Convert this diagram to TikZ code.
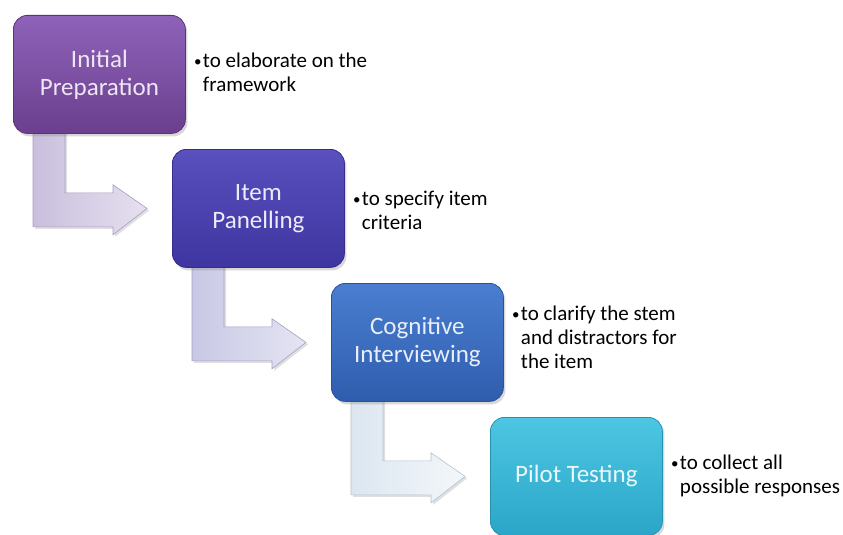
\documentclass[tikz,border=0pt]{standalone}
\usepackage{fontspec}
\setmainfont{Carlito}
\usetikzlibrary{calc,shadows}
\pgfdeclarelayer{bg}
\pgfsetlayers{bg,main}
\definecolor{bAt}{HTML}{8E62B8}\definecolor{bAb}{HTML}{6B3F8E}\definecolor{bAd}{HTML}{5A3478}\definecolor{bAx}{HTML}{EFE6F5}
\definecolor{bBt}{HTML}{5A50BE}\definecolor{bBb}{HTML}{3F35A0}\definecolor{bBd}{HTML}{362C8A}\definecolor{bBx}{HTML}{ECEBF8}
\definecolor{bCt}{HTML}{4A7ED0}\definecolor{bCb}{HTML}{2F5DAE}\definecolor{bCd}{HTML}{2A5296}\definecolor{bCx}{HTML}{E8EFF9}
\definecolor{bDt}{HTML}{4CC6E2}\definecolor{bDb}{HTML}{2CA6C8}\definecolor{bDd}{HTML}{2592B0}\definecolor{bDx}{HTML}{EAF7FB}
\definecolor{aAl}{HTML}{C9BFDC}\definecolor{aAr}{HTML}{E6E0F0}\definecolor{aAd}{HTML}{A89CBF}
\definecolor{aBl}{HTML}{C8C8E4}\definecolor{aBr}{HTML}{E4E4F3}\definecolor{aBd}{HTML}{A0A0C8}
\definecolor{aCl}{HTML}{DCE6F0}\definecolor{aCr}{HTML}{F4F7FB}\definecolor{aCd}{HTML}{B4C2D0}
\newcommand{\smallbul}{{\fontsize{15}{15}\selectfont\raisebox{1pt}{•}}}
\begin{document}
\begin{tikzpicture}[x=1pt,y=-1pt,
  stagebox/.style={rectangle, rounded corners=14pt, minimum width=172pt, minimum height=118pt,
    anchor=north west, align=center, inner sep=0pt, line width=0.8pt,
    font=\fontsize{25}{28}\selectfont,
    drop shadow={opacity=0.3, shadow xshift=2pt, shadow yshift=-3pt}},
  note/.style={anchor=west, inner sep=0pt, font=\fontsize{21}{24}\selectfont},
  bentarrow/.style={line width=0.6pt, drop shadow={opacity=0.25, shadow xshift=2pt, shadow yshift=-2pt}}
]
\useasboundingbox (0,0) rectangle (843,535);

\node[stagebox, top color=bAt, bottom color=bAb, draw=bAd, text=bAx] (b1) at (13,15) {Initial\\Preparation};
\node[stagebox, top color=bBt, bottom color=bBb, draw=bBd, text=bBx] (b2) at (172,149) {Item\\Panelling};
\node[stagebox, top color=bCt, bottom color=bCb, draw=bCd, text=bCx] (b3) at (331,283) {Cognitive\\Interviewing};
\node[stagebox, top color=bDt, bottom color=bDb, draw=bDd, text=bDx] (b4) at (490,417) {Pilot Testing};

\node[note] (n1) at ($(b1.east)+(8,0)$) {\begin{tabular}{@{}l@{\hspace{1.5pt}}l@{}}\smallbul&to elaborate on the\\&framework\end{tabular}};
\node[note] (n2) at ($(b2.east)+(8,4)$) {\begin{tabular}{@{}l@{\hspace{1.5pt}}l@{}}\smallbul&to specify item\\&criteria\end{tabular}};
\node[note] (n3) at ($(b3.east)+(8,-3)$) {\begin{tabular}{@{}l@{\hspace{1.5pt}}l@{}}\smallbul&to clarify the stem\\&and distractors for\\&the item\end{tabular}};
\node[note] (n4) at ($(b4.east)+(8,0)$) {\begin{tabular}{@{}l@{\hspace{1.5pt}}l@{}}\smallbul&to collect all\\&possible responses\end{tabular}};

\begin{pgfonlayer}{bg}
\fill[white] (0,0) rectangle (843,535);
\foreach \s/\t/\l/\r/\d in {b1/b2/aAl/aAr/aAd, b2/b3/aBl/aBr/aBd, b3/b4/aCl/aCr/aCd}{
  \draw[bentarrow, left color=\l, right color=\r, draw=\d]
    ($(\s.south west)+(20,-4)$) -- ($(\s.south west)+(52,-4)$)
    -- ($(\s.south west)+(52,59)$) -- ($(\s.south west)+(100,59)$)
    -- ($(\s.south west)+(100,51)$) -- ($(\t.west)+(-25,0)$)
    -- ($(\s.south west)+(100,101)$) -- ($(\s.south west)+(100,93)$)
    -- ($(\s.south west)+(20,93)$) -- cycle;
}
\end{pgfonlayer}
\end{tikzpicture}
\end{document}
